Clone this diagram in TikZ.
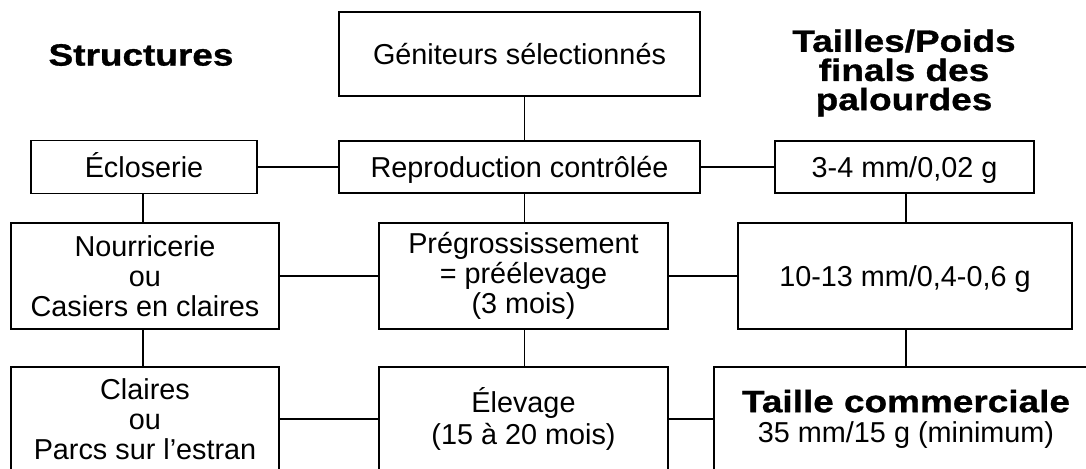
\documentclass[tikz,border=0pt]{standalone}
\usepackage{fontspec}
\setmainfont{Liberation Sans}
\newfontfamily\hdrfont[FakeStretch=1.2,FakeBold=1]{Liberation Sans Bold}
\begin{document}
\begin{tikzpicture}[x=0.5pt,y=-0.5pt,
  box/.style={draw, line width=0.8pt, inner sep=0pt, align=center,
    font=\fontsize{14.4pt}{15pt}\selectfont},
  oneline/.style={text height=13pt, text depth=2.7pt},
  conn/.style={line width=0.8pt},
  hdr/.style={align=center, inner sep=0pt, font=\hdrfont\fontsize{15.4pt}{14.6pt}\selectfont}]
\useasboundingbox (0,0) rectangle (1086,469);
\clip (0,0) rectangle (1086,469);
\coordinate (colL) at (143,0);
\coordinate (colM) at (524.5,0);
\coordinate (colR) at (906,0);
% headers
\node[hdr] (hstruct) at (141,55) {Structures};
\node[hdr] (htailles) at (904,73) {Tailles/Poids\\finals des\\palourdes};
% row 0
\node[box, oneline, minimum width=180.5pt, minimum height=42pt] (gen) at (519.5,54) {Géniteurs sélectionnés};
% row 1
\node[box, oneline, minimum width=113pt, minimum height=26.5pt] (eclo) at (144,167) {Écloserie};
\node[box, oneline, minimum width=180.5pt, minimum height=26pt] (rep) at (519.5,167) {Reproduction contrôlée};
\node[box, oneline, minimum width=129.5pt, minimum height=26pt] (t34) at (904.5,167) {3-4 mm/0,02 g};
% row 2
\node[box, minimum width=134pt, minimum height=53pt] (nour) at (145,276) {Nourricerie\\ou\\Casiers en claires};
\node[box, minimum width=144.5pt, minimum height=53pt] (preg) at (523.5,276) {Prégrossissement\\= préélevage\\(3 mois)};
\node[box, oneline, minimum width=167pt, minimum height=53pt] (t1013) at (905,276) {10-13 mm/0,4-0,6 g};
% row 3
\node[box, minimum width=134pt, minimum height=52pt] (claires) at (145,419) {Claires\\ou\\Parcs sur l’estran};
\node[box, minimum width=144.5pt, minimum height=52pt] (elev) at (523.5,419) {Élevage\\[1pt](15 à 20 mois)};
\node[box, minimum width=192pt, minimum height=52pt] (tcom) at (906,419)
  {{\hdrfont\fontsize{15.4pt}{15pt}\selectfont Taille commerciale}\\35 mm/15 g (minimum)};
% horizontal connectors
\draw[conn] (eclo.east) -- (rep.west);
\draw[conn] (rep.east) -- (t34.west);
\draw[conn] (nour.east) -- (preg.west);
\draw[conn] (preg.east) -- (t1013.west);
\draw[conn] (claires.east) -- (elev.west);
\draw[conn] (elev.east) -- (tcom.west);
% vertical connectors
\draw[conn] (eclo.south -| colL) -- (nour.north -| colL);
\draw[conn] (nour.south -| colL) -- (claires.north -| colL);
\draw[conn] (gen.south -| colM) -- (rep.north -| colM);
\draw[conn] (rep.south -| colM) -- (preg.north -| colM);
\draw[conn] (preg.south -| colM) -- (elev.north -| colM);
\draw[conn] (t34.south -| colR) -- (t1013.north -| colR);
\draw[conn] (t1013.south -| colR) -- (tcom.north -| colR);
\end{tikzpicture}
\end{document}
